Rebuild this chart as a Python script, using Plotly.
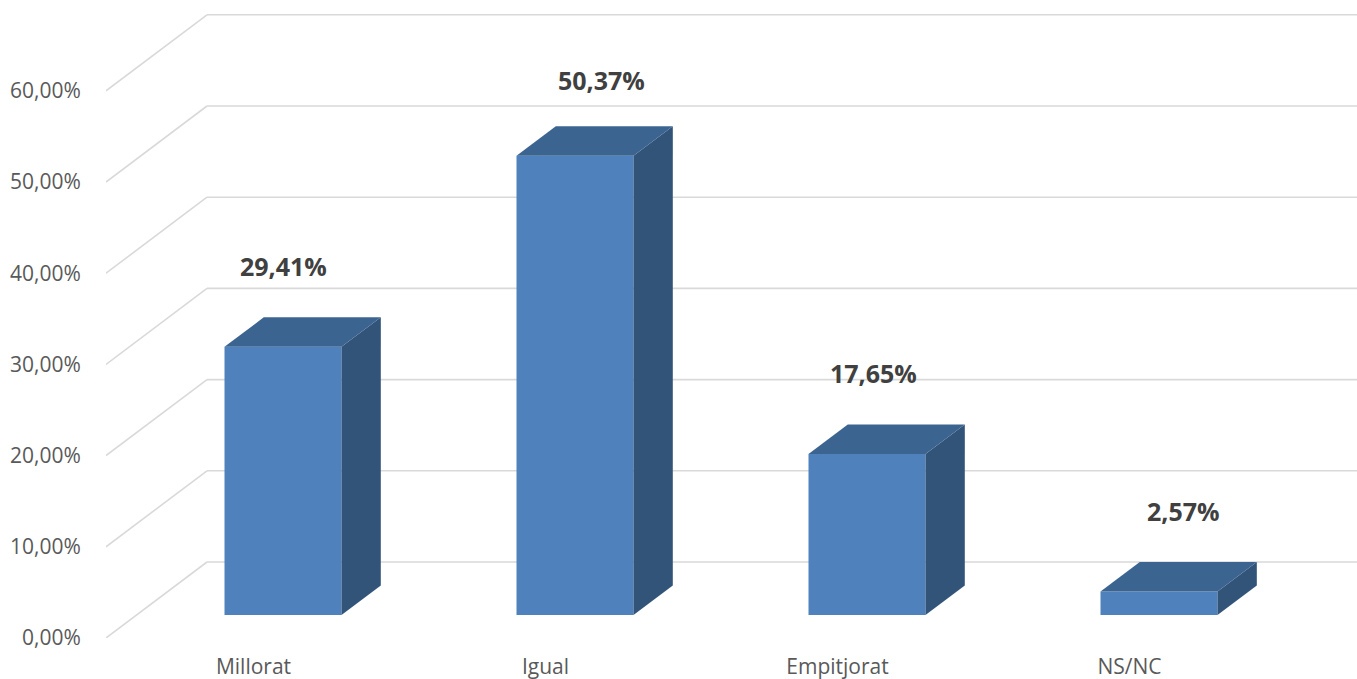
import plotly.graph_objects as go

# ---- data ----
categories = ["Millorat", "Igual", "Empitjorat", "NS/NC"]
values = [29.41, 50.37, 17.65, 2.57]
y_ticks = [0, 10, 20, 30, 40, 50, 60]
y_tick_labels = ["0,00%", "10,00%", "20,00%", "30,00%", "40,00%", "50,00%", "60,00%"]

# ---- styling / geometry (pixels converted into axis units) ----
W, H = 1357, 679
M_L, M_B = 106, 41
PX_Y = 9.12          # px per percentage point
PX_X = 292.0         # px per category
X0_PX = 253.5        # pixel of first category label centre
plot_h = H - M_B
x_lo = (M_L - X0_PX) / PX_X
x_hi = (W - X0_PX) / PX_X
y_hi = plot_h / PX_Y

floor_dx = 101 / PX_X   # oblique depth of the floor / walls
floor_dy = 76 / PX_Y
bar_shift = 29.5 / PX_X  # bar front offset from category position
bar_half = 58.5 / PX_X
bar_base = 23 / PX_Y
depth_dx = 39.3 / PX_X
depth_dy = 29.5 / PX_Y
label_gap = 81 / PX_Y
label_nudge_px = [(0, 0), (26.5, 5.4), (6, 0), (24, 0)]

FRONT = "#4F81BD"
TOP = "#3C6491"
SIDE = "#335479"
GRID = "#D9D9D9"

fig = go.Figure()

shapes = []
for t in y_ticks:
    xa, ya = x_lo, t
    xb, yb = x_lo + floor_dx, t + floor_dy
    shapes.append(dict(type="line", xref="x", yref="y", x0=xa, y0=ya, x1=xb, y1=yb,
                       line=dict(color=GRID, width=1.6), layer="below"))
    shapes.append(dict(type="line", xref="x", yref="y", x0=xb, y0=yb, x1=x_hi + 0.05, y1=yb,
                       line=dict(color=GRID, width=1.6), layer="below"))

annotations = []
for i, (cat, v) in enumerate(zip(categories, values)):
    xl = i + bar_shift - bar_half
    xr = i + bar_shift + bar_half
    yb = bar_base
    yt = bar_base + v
    # front face
    fig.add_trace(go.Scatter(x=[xl, xr, xr, xl, xl], y=[yb, yb, yt, yt, yb], fill="toself",
                             fillcolor=FRONT, mode="lines", line=dict(width=0, color=FRONT),
                             hoverinfo="skip", showlegend=False))
    # side face
    fig.add_trace(go.Scatter(x=[xr, xr + depth_dx, xr + depth_dx, xr, xr],
                             y=[yb, yb + depth_dy, yt + depth_dy, yt, yb], fill="toself",
                             fillcolor=SIDE, mode="lines", line=dict(width=0, color=SIDE),
                             hoverinfo="skip", showlegend=False))
    # top face
    fig.add_trace(go.Scatter(x=[xl, xr, xr + depth_dx, xl + depth_dx, xl],
                             y=[yt, yt, yt + depth_dy, yt + depth_dy, yt], fill="toself",
                             fillcolor=TOP, mode="lines", line=dict(width=0, color=TOP),
                             hoverinfo="skip", showlegend=False))
    ndx, ndy = label_nudge_px[i]
    annotations.append(dict(
        x=i + bar_shift + ndx / PX_X, y=yt + label_gap - ndy / PX_Y, xref="x", yref="y",
        text=f"{v:.2f}".replace(".", ",") + "%", showarrow=False,
        xanchor="center", yanchor="middle",
        font=dict(family="Open Sans", size=25, color="#404040", weight="bold")))

fig.update_layout(
    width=W, height=H,
    margin=dict(l=M_L, r=0, t=0, b=M_B, pad=0, autoexpand=False),
    paper_bgcolor="white", plot_bgcolor="white",
    showlegend=False,
    shapes=shapes, annotations=annotations,
    font=dict(family="Open Sans", size=21, color="#595959"),
    xaxis=dict(range=[x_lo, x_hi], tickvals=list(range(len(categories))), ticktext=categories,
               showgrid=False, zeroline=False, showline=False, automargin=False,
               ticks="outside", ticklen=10, tickcolor="rgba(0,0,0,0)",
               tickfont=dict(family="Open Sans", size=21, color="#595959"), fixedrange=True),
    yaxis=dict(range=[0, y_hi], tickvals=y_ticks, ticktext=y_tick_labels,
               showgrid=False, zeroline=False, showline=False, automargin=False,
               ticks="outside", ticklen=20, tickcolor="rgba(0,0,0,0)",
               tickfont=dict(family="Open Sans", size=21, color="#595959"), fixedrange=True),
)

fig.write_html("out.html", config={"displayModeBar": False},
               post_script="document.body.style.margin='0';document.body.style.overflow='hidden';")
